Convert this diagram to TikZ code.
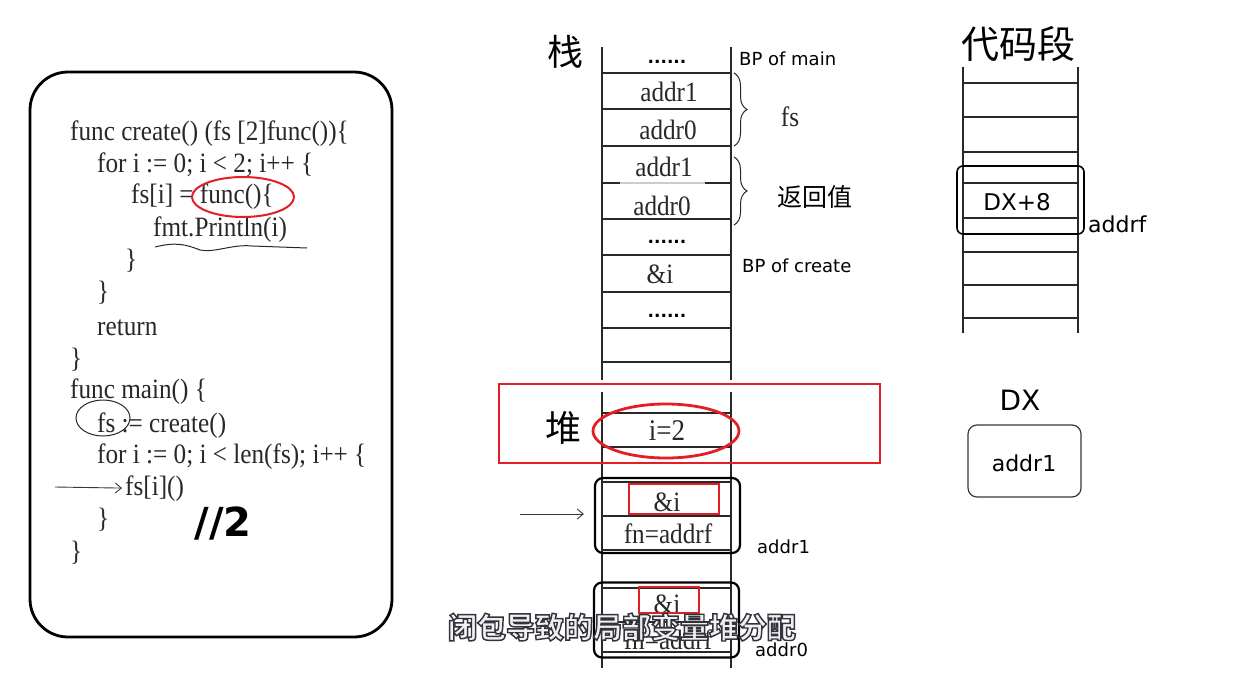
\documentclass[tikz,border=0pt]{standalone}
\usepackage{fontspec}
\usetikzlibrary{arrows.meta,decorations.pathreplacing}
\setmainfont{Liberation Serif}
\newfontfamily\codefont[FakeStretch=0.9]{Liberation Serif}
\newfontfamily\handfont{DejaVu Sans}
\newfontfamily\cjkfont{Noto Sans CJK SC}
\newfontfamily\subfont[BoldFeatures={FakeBold=5}]{Noto Sans CJK SC}
\definecolor{rcol}{RGB}{228,30,38}
\definecolor{lcol}{RGB}{40,40,40}
\definecolor{scol}{RGB}{55,55,65}
\tikzset{every picture/.style={x=1pt,y=-1pt}}
\tikzset{codeln/.style={anchor=base west,inner sep=0pt,text=lcol,font=\codefont\fontsize{28}{30}\selectfont}}
\tikzset{cell/.style={inner sep=0pt,text=lcol,font=\codefont\fontsize{28}{30}\selectfont}}
\tikzset{dotrow/.style={inner sep=0pt,font=\handfont\bfseries\fontsize{17}{20}\selectfont}}
\tikzset{handlbl/.style={inner sep=0pt,font=\handfont\fontsize{18}{20}\selectfont}}
\tikzset{cjklbl/.style={inner sep=0pt,font=\cjkfont\fontsize{36}{40}\selectfont}}
\tikzset{memline/.style={draw=lcol,line width=1.4pt}}
\tikzset{boxdraw/.style={draw,line width=2.2pt,rounded corners=8pt,minimum width=145pt,minimum height=75pt}}
\tikzset{redmark/.style={draw=rcol,line width=1.6pt}}
\tikzset{edge/.style={-{Straight Barb[length=6pt,width=10pt]},draw=scol,line width=0.9pt}}
\tikzset{bracedraw/.style={decorate,decoration={brace,amplitude=13pt},line width=1pt,draw=lcol}}
\tikzset{subtl/.style={inner sep=0pt,text=white!94!black,font=\subfont\bfseries\fontsize{29}{32}\selectfont}}

\begin{document}
\begin{tikzpicture}
\useasboundingbox [fill=white] (0,0) rectangle (1238,688);

\draw [line width=2.8pt,rounded corners=38pt] (30,72) rectangle (392,637);

\node [codeln] (c1) at (70,140) {func create() (fs [2]func())\{};
\node [codeln] (c2) at (97,172) {for i := 0; i < 2; i++ \{};
\node [codeln] (c3) at (131,203) {fs[i] = func()\{};
\node [codeln] (c4) at (153,236) {fmt.Println(i)};
\node [codeln] (c5) at (125,268) {\}};
\node [codeln] (c6) at (97,300) {\}};
\node [codeln] (c7) at (97,335) {return};
\node [codeln] (c8) at (70,367) {\}};
\node [codeln] (c9) at (70,398) {func main() \{};
\node [codeln] (c10) at (97,432) {fs := create()};
\node [codeln] (c11) at (97,463) {for i := 0; i < len(fs); i++ \{};
\node [codeln] (callfs) at (125,495) {fs[i]()};
\node [codeln] (c13) at (97,527) {\}};
\node [codeln] (c14) at (70,560) {\}};
\node [inner sep=0pt,font=\handfont\bfseries\fontsize{40}{44}\selectfont] (half) at (223,524) {//2};

\draw [rcol,line width=2pt] (243,197) ellipse [x radius=51pt,y radius=20pt];
\draw [lcol,line width=1pt] (155,247) .. controls (175,242) and (185,244) .. (200,250)
  .. controls (215,253) and (232,244) .. (252,246) -- (307,248);
\draw [lcol,line width=1pt] (103,418) ellipse [x radius=27pt,y radius=18pt];
\coordinate (cs) at (55,487);
\draw [edge,shorten >=3pt] (cs) -- (callfs.west);

\node [cjklbl] (stk) at (565,52) {栈};
\draw [memline] (602,47) -- (602,380);
\draw [memline] (731,47) -- (731,380);
\foreach \y in {73,109,146,219,255,292,328,362}
  \draw [memline] (602,\y) -- (731,\y);
\draw [memline] (602,183) -- (620,183);
\draw [memline] (705,183) -- (731,183);
\draw [draw=black!20,line width=1.2pt] (620,183) -- (705,183);

\node [dotrow] (d1) at (667,62) {......};
\node [cell] (s1) at (669,92) {addr1};
\node [cell] (s2) at (668,130) {addr0};
\node [cell] (s3) at (664,167) {addr1};
\node [cell] (s4) at (662,206) {addr0};
\node [dotrow] (d2) at (667,242) {......};
\node [cell] (s5) at (660,274) {\&i};
\node [dotrow] (d3) at (667,316) {......};

\node [handlbl,anchor=west] (bpm) at (739,59) {BP of main};
\node [handlbl,anchor=west] (bpc) at (742,266) {BP of create};
\coordinate (fst) at (734,73);
\coordinate (fsb) at (734,146);
\draw [bracedraw] (fst) -- (fsb);
\node [cell] (fslbl) at (790,117) {fs};
\coordinate (rvt) at (734,157);
\coordinate (rvb) at (734,225);
\draw [bracedraw] (rvt) -- (rvb);
\node [cjklbl,font=\cjkfont\fontsize{25}{28}\selectfont] (rvlbl) at (815,197) {返回值};

\draw [memline] (602,392) -- (602,668);
\draw [memline] (731,392) -- (731,668);
\foreach \y in {413,447,482,516,550,588,622,652}
  \draw [memline] (602,\y) -- (731,\y);
\node [cjklbl] (heap) at (563,428) {堆};
\node [cell,font=\codefont\fontsize{30}{32}\selectfont] (iv) at (667,431) {i=2};
\draw [rcol,line width=2.8pt] (666,431) ellipse [x radius=73pt,y radius=27pt];
\draw [redmark] (499,384) rectangle (880,463);

\node [boxdraw] (box1) at (667.5,515.5) {};
\node [cell] (b1a) at (667,502) {\&i};
\node [cell] (b1b) at (668,534) {fn=addrf};
\draw [redmark] (629,484) rectangle (719,514);
\node [handlbl,anchor=west] (a1) at (757,547) {addr1};
\coordinate (pin) at (520,514);
\draw [edge,shorten >=10pt] (pin) -- (pin -| box1.west);

\node [boxdraw] (box2) at (666.5,620) {};
\node [cell] (b2a) at (667,604) {\&i};
\node [cell] (b2b) at (668,640) {fn=addrf};
\draw [redmark] (639,587) rectangle (699,613);
\node [handlbl,anchor=west] (a0) at (755,650) {addr0};

\node [cjklbl,font=\cjkfont\fontsize{38}{40}\selectfont] (cseg) at (1018,44) {代码段};
\draw [memline] (963,67) -- (963,333);
\draw [memline] (1078,67) -- (1078,333);
\foreach \y in {83,117,152,183,218,252,285,318}
  \draw [memline] (963,\y) -- (1078,\y);
\node [draw,line width=1.6pt,rounded corners=6pt,minimum width=127pt,minimum height=68pt] (fbox) at (1020.5,200) {};
\node [handlbl,font=\handfont\fontsize{23}{25}\selectfont] (dx8) at (1017,202) {DX+8};
\node [handlbl,font=\handfont\fontsize{22}{24}\selectfont,anchor=west] (af) at (1088,224) {addrf};

\node [handlbl,font=\handfont\fontsize{28}{30}\selectfont] (dxl) at (1020,400) {DX};
\node [draw=scol,line width=1.2pt,rounded corners=9pt,minimum width=113pt,minimum height=72pt] (dxbox) at (1024.5,461) {};
\node [handlbl,font=\handfont\fontsize{22}{24}\selectfont] (dxv) at (1024,463) {addr1};

\node [subtl] (sub) at (622,627) {\special{pdf:code 0.2 0.2 0.24 RG}闭包导致的局部变量堆分配};
\end{tikzpicture}
\end{document}
